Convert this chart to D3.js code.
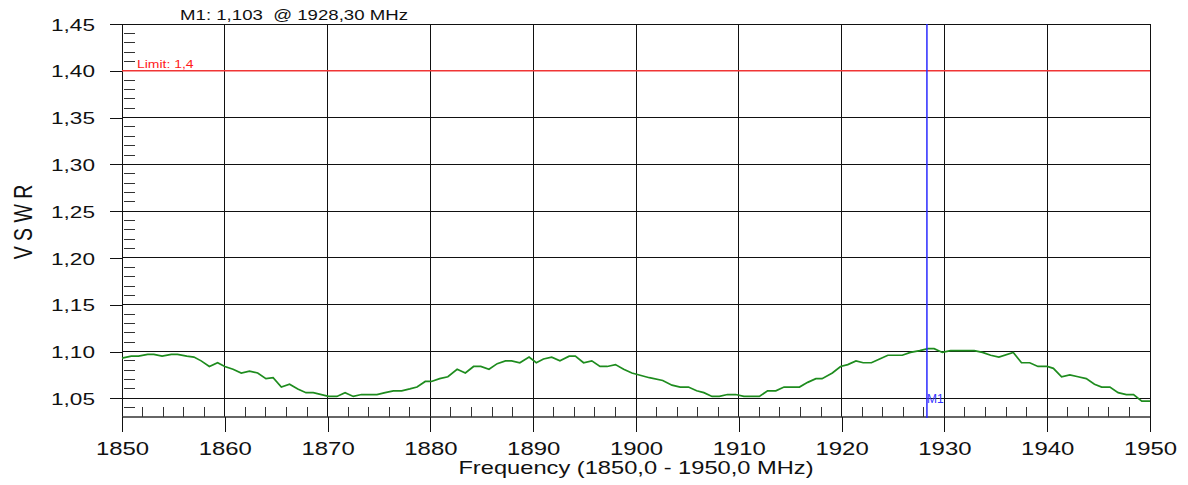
<!DOCTYPE html>
<head>
<meta charset="utf-8">
<title>VSWR</title>
<style>
body { margin: 0; background: #fff; }
text { font-family: "Liberation Sans", Arial, sans-serif; fill: #111; }
.grid line { stroke: #111; stroke-width: 1px; shape-rendering: crispEdges; }
.minor line { stroke: #333; stroke-width: 1px; shape-rendering: crispEdges; }
.axis path { display: none; }
.axis line { stroke: #111; stroke-width: 1px; shape-rendering: crispEdges; }
path.trace { fill: none; stroke: #1e8c1e; stroke-width: 1.7px; }
</style>
</head>
<body>
<script src="https://cdn.jsdelivr.net/npm/d3@7"></script>
<script>

// measured trace (MHz, VSWR)
var freq = [1850.0, 1850.9, 1851.6, 1852.5, 1853.1, 1853.9, 1854.8, 1855.4, 1856.3, 1857.0,
  1857.7, 1858.5, 1859.3, 1860.0, 1860.8, 1861.6, 1862.4, 1863.2, 1864.0, 1864.7,
  1865.5, 1866.3, 1867.1, 1867.9, 1868.6, 1870.1, 1870.9, 1871.7, 1872.5, 1873.3,
  1874.8, 1875.6, 1876.4, 1877.2, 1878.0, 1878.7, 1879.5, 1880.1, 1880.9, 1881.7,
  1882.6, 1883.4, 1884.2, 1884.9, 1885.7, 1886.5, 1887.3, 1887.9, 1888.7, 1889.6,
  1890.3, 1891.0, 1891.8, 1892.6, 1893.5, 1894.1, 1894.9, 1895.7, 1896.5, 1897.2,
  1898.0, 1898.8, 1899.6, 1901.3, 1902.6, 1903.5, 1904.3, 1905.1, 1905.9, 1906.6,
  1907.4, 1908.1, 1908.9, 1909.7, 1910.5, 1912.0, 1912.8, 1913.6, 1914.4, 1915.9,
  1916.7, 1917.5, 1918.1, 1919.1, 1919.9, 1920.6, 1921.4, 1922.1, 1922.9, 1923.7,
  1924.5, 1925.9, 1926.7, 1927.6, 1928.4, 1929.0, 1929.8, 1930.6, 1932.9, 1933.7,
  1934.5, 1935.3, 1936.7, 1937.5, 1938.3, 1939.1, 1940.0, 1940.6, 1941.4, 1942.2,
  1943.0, 1943.8, 1944.6, 1945.3, 1946.1, 1946.9, 1947.7, 1948.4, 1949.2, 1950.0];
var vswr = [1.093, 1.095, 1.095, 1.097, 1.097, 1.095, 1.097, 1.097, 1.095, 1.094,
  1.090, 1.084, 1.088, 1.084, 1.081, 1.077, 1.079, 1.077, 1.071, 1.072,
  1.062, 1.065, 1.060, 1.056, 1.056, 1.052, 1.052, 1.056, 1.052, 1.054,
  1.054, 1.056, 1.058, 1.058, 1.060, 1.062, 1.068, 1.068, 1.071, 1.073,
  1.081, 1.077, 1.084, 1.084, 1.081, 1.087, 1.090, 1.090, 1.088, 1.094,
  1.088, 1.092, 1.094, 1.090, 1.095, 1.095, 1.088, 1.090, 1.084, 1.084,
  1.086, 1.081, 1.077, 1.072, 1.069, 1.064, 1.062, 1.062, 1.058, 1.056,
  1.052, 1.052, 1.054, 1.054, 1.052, 1.052, 1.058, 1.058, 1.062, 1.062,
  1.067, 1.071, 1.071, 1.077, 1.084, 1.086, 1.090, 1.088, 1.088, 1.092,
  1.096, 1.096, 1.099, 1.101, 1.103, 1.103, 1.099, 1.101, 1.101, 1.099,
  1.096, 1.094, 1.099, 1.088, 1.088, 1.084, 1.084, 1.082, 1.073, 1.075,
  1.073, 1.071, 1.065, 1.062, 1.062, 1.056, 1.054, 1.054, 1.047, 1.047];

var xTicks = [1850, 1860, 1870, 1880, 1890, 1900, 1910, 1920, 1930, 1940, 1950];
var yTicks = [1.05, 1.10, 1.15, 1.20, 1.25, 1.30, 1.35, 1.40, 1.45];

var limit = 1.4;
var marker = {name: "M1", freq: 1928.3, value: 1.103};

var width = 1188, height = 485;
var pLeft = 122, pRight = 1150, pTop = 24, pBottom = 417;
var SX = 1.33; // the original font is drawn wide

var fmt = d3.formatLocale({decimal: ",", thousands: ".", grouping: [3], currency: ["", ""]});
var f2 = fmt.format(".2f");

var x = d3.scaleLinear().domain([1850, 1950]).range([pLeft, pRight]);
var y = d3.scaleLinear().domain([1.03, 1.45]).range([pBottom, pTop]);

var svg = d3.select("body").append("svg")
    .attr("width", width)
    .attr("height", height);

// minor ticks
var minorY = d3.range(104, 145).filter(function(v) { return v % 5 != 0; }).map(function(v) { return v / 100; });
svg.append("g").attr("class", "minor")
  .selectAll("line").data(minorY).enter().append("line")
    .attr("x1", pLeft + 2).attr("x2", pLeft + 13)
    .attr("y1", function(d) { return y(d); })
    .attr("y2", function(d) { return y(d); });

var minorX = d3.range(1852, 1950, 2).filter(function(v) { return v % 10 != 0; });
svg.append("g").attr("class", "minor")
  .selectAll("line").data(minorX).enter().append("line")
    .attr("x1", function(d) { return x(d); })
    .attr("x2", function(d) { return x(d); })
    .attr("y1", pBottom - 10).attr("y2", pBottom);

// grid
svg.append("g").attr("class", "grid")
  .selectAll("line").data(yTicks).enter().append("line")
    .attr("x1", pLeft).attr("x2", pRight)
    .attr("y1", function(d) { return y(d); })
    .attr("y2", function(d) { return y(d); });

svg.append("g").attr("class", "grid")
  .selectAll("line").data(xTicks).enter().append("line")
    .attr("x1", function(d) { return x(d); })
    .attr("x2", function(d) { return x(d); })
    .attr("y1", pTop).attr("y2", pBottom);

svg.append("line")
    .attr("x1", pLeft).attr("x2", pRight)
    .attr("y1", pBottom).attr("y2", pBottom)
    .style("stroke", "#333").style("stroke-width", "1.3px");

// axes
var yAxis = svg.append("g").attr("class", "axis")
    .attr("transform", "translate(" + pLeft + ",0)")
    .call(d3.axisLeft(y).tickValues(yTicks).tickSize(12).tickSizeOuter(0).tickFormat(f2));
yAxis.selectAll("text")
    .attr("x", null).attr("dy", "0.36em")
    .attr("transform", "translate(-27,0) scale(" + SX + ",1)")
    .style("font-size", "17px").style("fill", "#111");

var xAxis = svg.append("g").attr("class", "axis")
    .attr("transform", "translate(0," + pBottom + ")")
    .call(d3.axisBottom(x).tickValues(xTicks).tickSize(15).tickSizeOuter(0).tickFormat(d3.format("d")));
xAxis.selectAll("text")
    .attr("y", null).attr("dy", null)
    .attr("transform", "translate(0,38) scale(" + SX + ",1)")
    .style("font-size", "18px").style("fill", "#111");

// limit line
svg.append("line")
    .attr("x1", pLeft).attr("x2", pRight)
    .attr("y1", y(limit)).attr("y2", y(limit))
    .style("stroke", "#f03535").style("stroke-width", "1.5px");

svg.append("text")
    .attr("transform", "translate(" + (pLeft + 15) + "," + (y(limit) - 3) + ") scale(" + SX + ",1)")
    .style("font-size", "10.5px").style("fill", "#ff1a1a")
    .text("Limit: " + String(limit).replace(".", ","));

// trace
var pts = freq.map(function(f, i) { return [f, vswr[i]]; });
var line = d3.line()
    .x(function(d) { return x(d[0]); })
    .y(function(d) { return y(d[1]); });

svg.append("path")
    .datum(pts)
    .attr("class", "trace")
    .attr("d", line);

// marker
svg.append("line")
    .attr("x1", x(marker.freq)).attr("x2", x(marker.freq))
    .attr("y1", pTop).attr("y2", pBottom + 1)
    .style("stroke", "#2a2aff").style("stroke-width", "1.5px");

svg.append("text")
    .attr("x", x(marker.freq))
    .attr("y", y(1.05) + 5)
    .style("font-size", "12px").style("fill", "#3333ff")
    .text(marker.name);

// titles
svg.append("text")
    .attr("transform", "translate(294,20) scale(" + SX + ",1)")
    .attr("text-anchor", "middle")
    .attr("xml:space", "preserve")
    .style("font-size", "14px")
    .text(marker.name + ": " + fmt.format(".3f")(marker.value) + "  @ " + f2(marker.freq) + " MHz");

svg.append("text")
    .attr("transform", "translate(" + ((pLeft + pRight) / 2) + ",474) scale(" + SX + ",1)")
    .attr("text-anchor", "middle")
    .style("font-size", "17.8px")
    .text("Frequency (1850,0 - 1950,0 MHz)");

svg.append("text")
    .attr("transform", "translate(32,222) scale(" + SX + ",1) rotate(-90)")
    .attr("text-anchor", "middle")
    .style("font-size", "19.5px")
    .text("V S W R");

</script>
</body>
</html>
